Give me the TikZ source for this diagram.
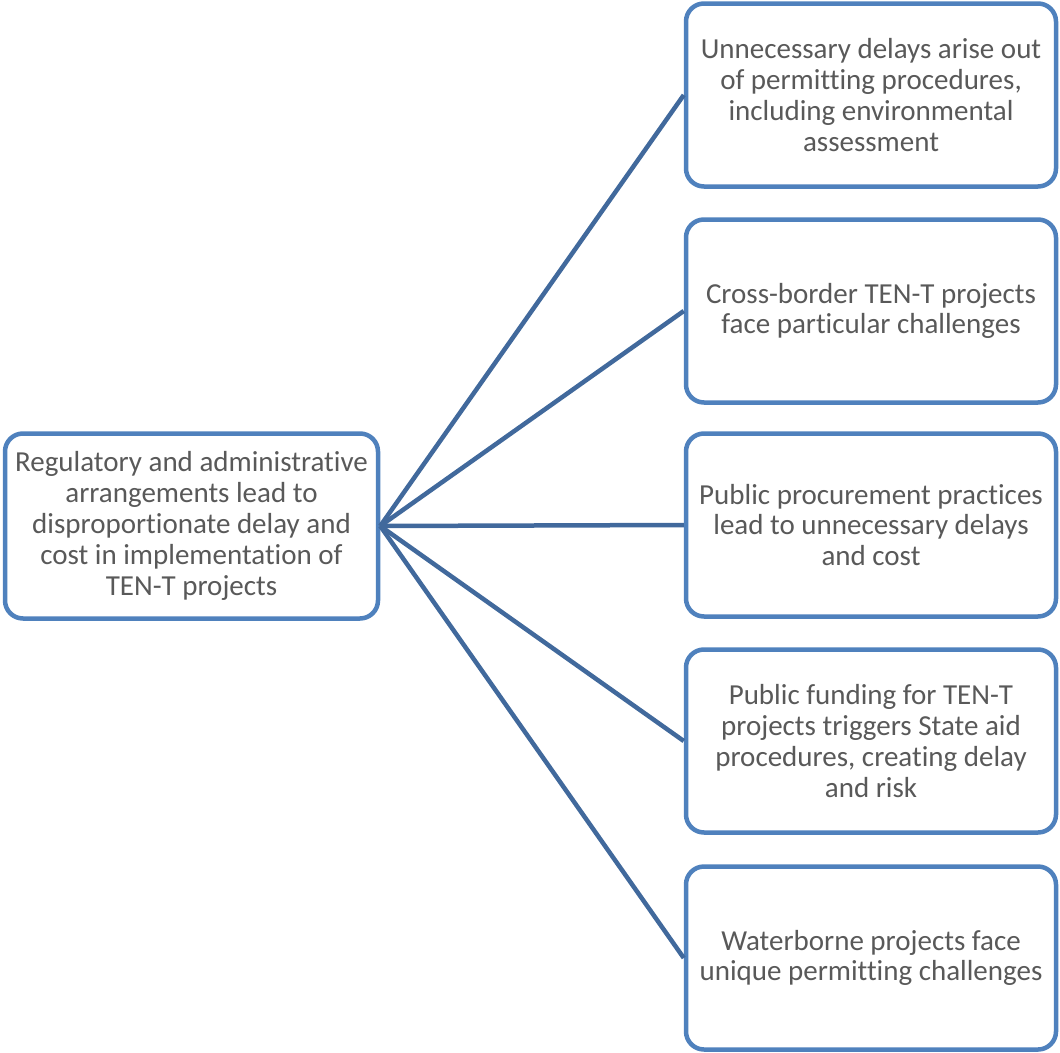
\documentclass[tikz,border=0pt]{standalone}
\usepackage{fontspec}
\setmainfont{Carlito}[Ligatures=NoCommon]
\definecolor{boxblue}{HTML}{4F81BD}
\definecolor{lineblue}{HTML}{41699C}
\definecolor{txtgray}{HTML}{595959}
\begin{document}
\begin{tikzpicture}[x=1pt,y=-1pt,
  box/.style={draw=boxblue,line width=4.5pt,rounded corners=18pt,fill=white,
    minimum width=370pt,minimum height=183pt,align=center,text=txtgray,
    font=\fontsize{29}{30.8}\selectfont,inner sep=0pt},
  conn/.style={draw=lineblue,line width=4.5pt}]
\useasboundingbox (0,0) rectangle (1060,1052);
\node[box,minimum width=373pt,minimum height=185pt] (L) at (191.5,526) {Regulatory and administrative\\arrangements lead to\\disproportionate delay and\\cost in implementation of\\TEN-T projects};
\node[box] (R1) at (871,95) {Unnecessary delays arise out\\of permitting procedures,\\including environmental\\assessment};
\node[box] (R2) at (871,311) {Cross-border TEN-T projects\\face particular challenges};
\node[box] (R3) at (871,525) {Public procurement practices\\lead to unnecessary delays\\and cost};
\node[box] (R4) at (871,741) {Public funding for TEN-T\\projects triggers State aid\\procedures, creating delay\\and risk};
\node[box] (R5) at (871,958) {Waterborne projects face\\unique permitting challenges};
\foreach \r in {R1,R2,R3,R4,R5}
  \draw[conn] (L.east) -- (\r.west);
\end{tikzpicture}
\end{document}
